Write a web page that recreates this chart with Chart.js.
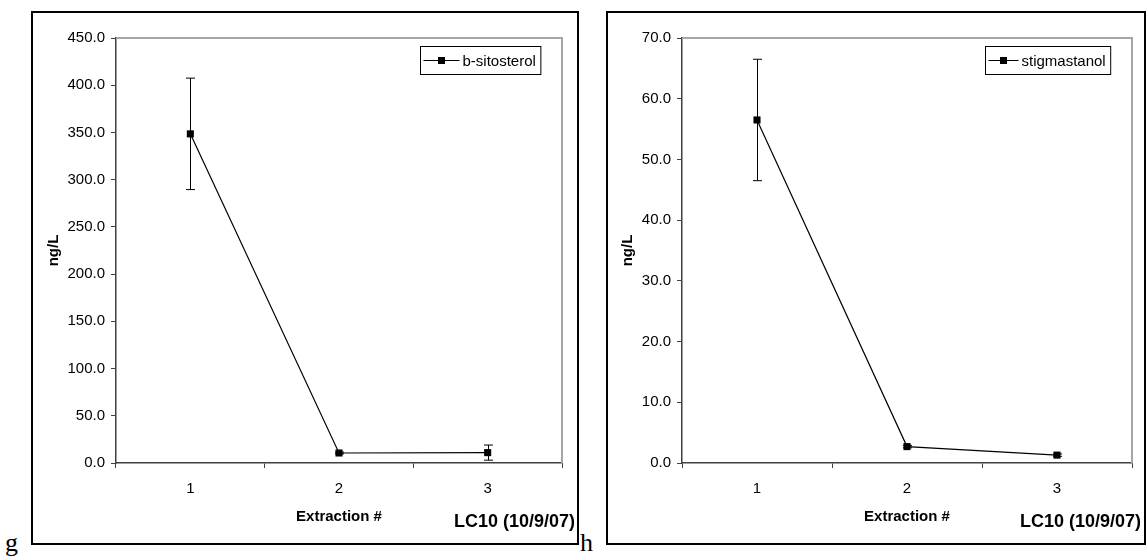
<!DOCTYPE html>
<html>
<head>
<meta charset="utf-8">
<script src="https://cdn.jsdelivr.net/npm/chart.js@4.4.0/dist/chart.umd.min.js"></script>
<style>
  body { margin: 0; background: #fff; width: 1147px; height: 558px; position: relative; overflow: hidden; font-family: "Liberation Sans", Arial, sans-serif; }
  .box { position: absolute; border: 2px solid #000; box-sizing: border-box; }
  .cv { position: absolute; }
  .tag { position: absolute; font-family: "Liberation Serif", "Times New Roman", serif; font-size: 26px; line-height: 1; }
  .lc { position: absolute; font-weight: bold; font-size: 18px; white-space: nowrap; }
</style>
</head>
<body>
<div class="box" style="left:31px;top:11px;width:548px;height:534px;"></div>
<div class="box" style="left:606px;top:11px;width:540px;height:534px;"></div>
<div class="cv" style="left:31px;top:12px;width:547px;height:532px;"><canvas id="grafica1"></canvas></div>
<div class="cv" style="left:607px;top:12px;width:538px;height:532px;"><canvas id="grafica2"></canvas></div>
<div class="tag" style="left:5px;top:530px;">g</div>
<div class="tag" style="left:580px;top:530px;">h</div>
<div class="lc" style="right:572px;top:511px;">LC10 (10/9/07)</div>
<div class="lc" style="right:6px;top:511px;">LC10 (10/9/07)</div>

<script>
// datos
const categorias = ['1', '2', '3'];

const sitosterol = [348.5, 10.6, 11.0];
const sitosterolErr = [59, 1, 8];

const stigmastanol = [56.5, 2.7, 1.3];
const stigmastanolErr = [10, 0.2, 0.2];

const ejeY1 = { max: 450, paso: 50 };
const ejeY2 = { max: 70, paso: 10 };

const fuente = '"Liberation Sans", Arial, sans-serif';

// barras de error + borde del area + leyenda
const extras = {
    id: 'extras',
    beforeDatasetsDraw(chart) {
        const ctx = chart.ctx;
        const x = chart.scales.x, y = chart.scales.y;
        const ds = chart.data.datasets[0];
        ctx.save();
        ctx.strokeStyle = '#000';
        ctx.lineWidth = 1;
        ds.data.forEach((v, i) => {
            const e = ds.errores[i];
            const px = Math.round(x.getPixelForValue(i)) + 0.5;
            const yt = y.getPixelForValue(v + e);
            const yb = y.getPixelForValue(Math.max(0, v - e));
            ctx.beginPath();
            ctx.moveTo(px, yt); ctx.lineTo(px, yb);
            ctx.moveTo(px - 4.5, yt); ctx.lineTo(px + 4.5, yt);
            ctx.moveTo(px - 4.5, yb); ctx.lineTo(px + 4.5, yb);
            ctx.stroke();
        });
        ctx.restore();
    },
    afterDraw(chart) {
        const ctx = chart.ctx;
        const a = chart.chartArea;
        ctx.save();
        // borde gris arriba y a la derecha
        ctx.strokeStyle = '#a6a6a6';
        ctx.lineWidth = 2;
        ctx.beginPath();
        ctx.moveTo(a.left, a.top);
        ctx.lineTo(a.right, a.top);
        ctx.lineTo(a.right, a.bottom);
        ctx.stroke();

        // leyenda
        const label = chart.data.datasets[0].label;
        ctx.font = '15px ' + fuente;
        const tw = ctx.measureText(label).width;
        const lineLen = chart.options.lineaLeyenda;
        const w = 3 + lineLen + 3 + tw + 5;
        const h = 28;
        const bx = Math.round(a.right - 22 - w) + 0.5;
        const by = Math.round(a.top + 8) + 0.5;
        ctx.fillStyle = '#fff';
        ctx.fillRect(bx, by, w, h);
        ctx.strokeStyle = '#000';
        ctx.lineWidth = 1;
        ctx.strokeRect(bx, by, w, h);
        const my = by + h / 2;
        ctx.beginPath();
        ctx.moveTo(bx + 3, my);
        ctx.lineTo(bx + 3 + lineLen, my);
        ctx.stroke();
        ctx.fillStyle = '#000';
        ctx.fillRect(Math.round(bx + 3 + lineLen / 2 - 3.5), Math.round(my - 3.5), 7, 7);
        ctx.textBaseline = 'middle';
        ctx.fillText(label, bx + 3 + lineLen + 3, my + 1);
        ctx.restore();
    }
};

function crearGrafica(id, etiqueta, valores, errores, eje, anchoY, padDer, lineaLeyenda, padTituloY) {
    const ctx = document.getElementById(id).getContext('2d');
    return new Chart(ctx, {
        type: 'line',
        data: {
            labels: categorias,
            datasets: [{
                label: etiqueta,
                data: valores,
                errores: errores,
                borderColor: '#000',
                borderWidth: 1.2,
                pointStyle: 'rect',
                pointRadius: 5,
                pointBackgroundColor: '#000',
                pointBorderColor: '#000',
                pointBorderWidth: 0,
                tension: 0,
                fill: false
            }]
        },
        options: {
            responsive: true,
            maintainAspectRatio: false,
            animation: false,
            lineaLeyenda: lineaLeyenda,
            layout: { padding: { left: 0, top: 26, right: padDer, bottom: 0 } },
            plugins: {
                legend: { display: false },
                tooltip: { enabled: false }
            },
            scales: {
                x: {
                    offset: true,
                    grid: { offset: true, drawOnChartArea: false, drawTicks: true, tickLength: 5, color: '#404040', lineWidth: 1 },
                    border: { color: '#404040', width: 1.5 },
                    ticks: { color: '#000', font: { family: fuente, size: 15 }, padding: 12, maxRotation: 0 },
                    title: { display: true, text: 'Extraction #', color: '#000', font: { family: fuente, size: 15, weight: 'bold' }, padding: { top: 0, bottom: 18 } },
                    afterFit(scale) { scale.height = 81; }
                },
                y: {
                    min: 0,
                    max: eje.max,
                    grid: { drawOnChartArea: false, drawTicks: true, tickLength: 5, color: '#404040', lineWidth: 1 },
                    border: { color: '#404040', width: 1.5 },
                    ticks: {
                        stepSize: eje.paso,
                        color: '#000',
                        font: { family: fuente, size: 15 },
                        padding: 6,
                        callback: v => Number(v).toFixed(1)
                    },
                    title: { display: true, text: 'ng/L', color: '#000', font: { family: fuente, size: 15, weight: 'bold' }, padding: { top: padTituloY, bottom: 0 } },
                    afterFit(scale) { scale.width = anchoY; }
                }
            }
        },
        plugins: [extras]
    });
}

window.miGrafica1 = crearGrafica('grafica1', 'b-sitosterol', sitosterol, sitosterolErr, ejeY1, 85, 16, 36, 14);
window.miGrafica2 = crearGrafica('grafica2', 'stigmastanol', stigmastanol, stigmastanolErr, ejeY2, 75, 13, 30, 12);
</script>
</body>
</html>
